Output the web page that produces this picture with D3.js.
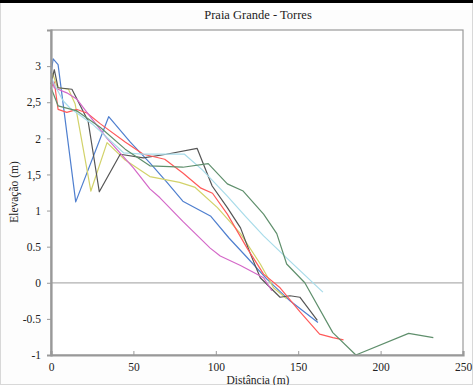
<!DOCTYPE html>
<html><head><meta charset="utf-8">
<script src="https://cdn.jsdelivr.net/npm/d3@7"></script>
<style>body{margin:0;background:#fff}svg{display:block}</style>
</head><body>
<script>
const title = "Praia Grande - Torres";
const xLabel = "Distância (m)";
const yLabel = "Elevação (m)";
const xTicks = [0, 50, 100, 150, 200, 250];
const yTicks = [3, 2.5, 2, 1.5, 1, 0.5, 0, -0.5, -1];
const yTickLabels = ["3", "2,5", "2", "1,5", "1", "0.5", "0", "-0.5", "-1"];
const seriesNames = ["azul", "amarelo", "preto", "vermelho", "magenta", "ciano", "verde"];
const seriesColors = ["#4f7fcf", "#d2d26a", "#555555", "#ff5a5a", "#d468c8", "#a8dcea", "#5f8f6c"];
const azul = [[0,2.9],[1.3,3.1],[4.3,3.02],[15,1.12],[35,2.3],[48,1.95],[60,1.66],[70,1.4],[80,1.13],[97,0.92],[108,0.62],[119,0.35],[131,0.05],[145,-0.25],[162,-0.55]];
const amarelo = [[0,2.75],[1,2.9],[4,2.7],[10.6,2.68],[14.6,2.48],[24.2,1.27],[34,1.94],[45,1.7],[60,1.47],[78,1.39],[87.5,1.32],[101,1.04],[115,0.68],[127,0.26],[135,-0.07],[143,-0.22]];
const preto = [[0,2.75],[2,2.95],[4.3,2.7],[12.7,2.68],[22.5,2.24],[29.3,1.26],[42,1.78],[56,1.73],[70,1.78],[88.7,1.86],[97.8,1.34],[107,1.04],[115,0.76],[121,0.4],[127,0.07],[139,-0.2],[145,-0.18],[151,-0.2],[161.6,-0.52]];
const vermelho = [[0,2.7],[2,2.78],[4.3,2.4],[9.6,2.36],[15.8,2.4],[21.8,2.35],[30,2.2],[45,1.95],[56,1.78],[69,1.71],[80,1.52],[91,1.31],[98,1.24],[107,0.95],[119,0.48],[129,0.12],[139,-0.07],[151,-0.4],[163,-0.71],[171,-0.76],[177.5,-0.79]];
const magenta = [[0,2.85],[2,2.7],[9.6,2.63],[15.8,2.54],[22.5,2.34],[34,2.0],[50,1.59],[60,1.3],[66,1.18],[80,0.85],[96.6,0.48],[102.7,0.37],[115,0.24],[129,0.07],[134,-0.11]];
const ciano = [[0,2.85],[2,2.75],[7.3,2.52],[11.5,2.42],[25,2.2],[44,1.8],[56,1.78],[81,1.78],[92,1.56],[107,1.2],[118,0.92],[129,0.65],[145,0.3],[165,-0.13]];
const verde = [[0,2.7],[4.3,2.45],[15.8,2.38],[30,2.15],[45,1.85],[60,1.62],[80,1.6],[95.4,1.65],[107,1.37],[116.6,1.27],[129,0.95],[137,0.68],[143,0.26],[154,0],[171,-0.69],[185,-1.0],[217,-0.7],[232,-0.76]];
const seriesData = [azul, amarelo, preto, vermelho, magenta, ciano, verde];

const W = 473, H = 385;
const svg = d3.select("body").append("svg").attr("width", W).attr("height", H);
const font = "'Liberation Serif', 'Times New Roman', serif";

// outer frame
svg.append("rect").attr("x",0.5).attr("y",0.5).attr("width",W-1).attr("height",H-1)
  .attr("fill","#fdfdfd").attr("stroke","#d8d8d8");
svg.append("rect").attr("x",0).attr("y",0).attr("width",W).attr("height",3).attr("fill","#000");

const L = 51, R = 463, T = 30, B = 355;
const x = d3.scaleLinear().domain([0,250]).range([L,R]);
const y = d3.scaleLinear().domain([-1,3.5]).range([B,T]);

svg.append("rect").attr("x",L).attr("y",T).attr("width",R-L).attr("height",B-T)
  .attr("fill","#fff").attr("stroke","#9a9a9a").attr("stroke-width",1.2);

// zero line
svg.append("line").attr("x1",L).attr("x2",R).attr("y1",y(0)).attr("y2",y(0))
  .attr("stroke","#b0b0b0").attr("stroke-width",1.3);

// series
const line = d3.line().x(d=>x(d[0])).y(d=>y(d[1]));
seriesData.forEach((s,i)=>{
  svg.append("path").datum(s).attr("d",line).attr("fill","none")
    .attr("stroke",seriesColors[i]).attr("stroke-width",1.2).attr("stroke-linejoin","round");
});

// axes
const yAxis = d3.axisLeft(y).tickValues(yTicks).tickSize(4).tickPadding(6)
  .tickFormat((d,i)=>yTickLabels[i]);
const gy = svg.append("g").attr("transform",`translate(${L},0)`).call(yAxis);
gy.select(".domain").attr("stroke","#999").attr("stroke-width",2.2);
gy.selectAll(".tick line").attr("stroke","#999");
gy.selectAll("text").attr("font-family",font).attr("font-size",11.5).attr("fill","#222");

const xAxis = d3.axisBottom(x).tickValues(xTicks).tickSize(-4).tickPadding(8).tickFormat(d3.format("d"));
const gx = svg.append("g").attr("transform",`translate(0,${B})`).call(xAxis);
gx.select(".domain").attr("stroke","#999").attr("stroke-width",2.2);
gx.selectAll(".tick line").attr("stroke","#999");
gx.selectAll("text").attr("font-family",font).attr("font-size",11.5).attr("fill","#222");

svg.append("text").attr("x",258).attr("y",19).attr("text-anchor","middle")
  .attr("font-family",font).attr("font-size",12.5).attr("fill","#222").text(title);
svg.append("text").attr("x",258).attr("y",384).attr("text-anchor","middle")
  .attr("font-family",font).attr("font-size",11.5).attr("fill","#222").text(xLabel);
svg.append("text").attr("transform","translate(18,192) rotate(-90)").attr("text-anchor","middle")
  .attr("font-family",font).attr("font-size",11.5).attr("fill","#222").text(yLabel);
</script>
</body></html>
